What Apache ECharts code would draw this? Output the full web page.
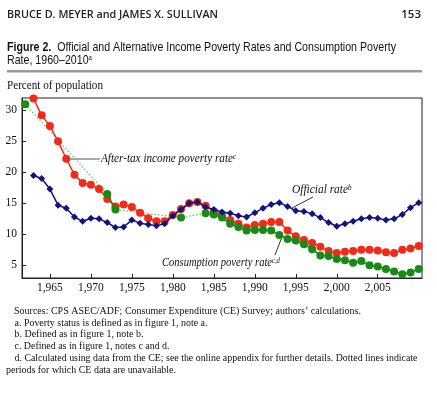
<!DOCTYPE html>
<html><head><meta charset="utf-8">
<script src="https://cdn.jsdelivr.net/npm/echarts@6/dist/echarts.min.js"></script>
<style>html,body{margin:0;padding:0;background:#fff}#c{width:437px;height:394px}</style>
</head><body><div id="c"></div>
<script>
const years = [1963,1964,1965,1966,1967,1968,1969,1970,1971,1972,1973,1974,1975,1976,1977,1978,1979,1980,1981,1982,1983,1984,1985,1986,1987,1988,1989,1990,1991,1992,1993,1994,1995,1996,1997,1998,1999,2000,2001,2002,2003,2004,2005,2006,2007,2008,2009,2010];
const officialRate = [19.5,19.0,17.3,14.7,14.2,12.8,12.1,12.6,12.5,11.9,11.1,11.2,12.3,11.8,11.6,11.4,11.7,13.0,14.0,15.0,15.2,14.4,14.0,13.6,13.4,13.0,12.8,13.5,14.2,14.8,15.1,14.5,13.8,13.7,13.3,12.7,11.9,11.3,11.7,12.1,12.5,12.7,12.6,12.3,12.5,13.2,14.3,15.1];
const afterTaxRate = [31.9,29.2,27.5,25.0,22.2,19.6,18.3,18.0,17.3,15.7,14.5,14.8,14.4,13.5,12.6,12.1,12.1,13.1,14.1,15.0,15.2,14.6,13.7,13.1,12.3,11.7,11.1,11.5,11.7,12.0,12.0,10.6,9.7,9.1,8.6,8.0,7.3,7.0,7.2,7.3,7.5,7.5,7.4,7.1,7.0,7.5,7.7,8.1];
const consYears = [1962,1972,1973,1981,1984,1985,1986,1987,1988,1989,1990,1991,1992,1993,1994,1995,1996,1997,1998,1999,2000,2001,2002,2003,2004,2005,2006,2007,2008,2009,2010];
const consRate = [31.0,16.5,14.0,12.7,13.4,13.2,12.7,11.7,11.2,10.6,10.7,10.7,10.6,9.9,9.25,9.0,8.4,7.6,6.6,6.5,6.0,5.8,5.4,5.7,5.0,4.8,4.4,4.0,3.55,3.85,4.4];
const xTickYears = [1965,1970,1975,1980,1985,1990,1995,2000,2005];
const yTickValues = [5,10,15,20,25,30];

const RED = '#f22a17', BLUE = '#13137f', GREEN = '#178a17', DOT = '#4fd04f';
const SERIF = '"Liberation Serif","Times New Roman",serif';
const SANS = '"Liberation Sans",Arial,sans-serif';

const mctx = document.createElement('canvas').getContext('2d');
const measure = (font, text) => { mctx.font = font; return mctx.measureText(text).width; };

const pairs = (xs, ys) => xs.map((x, i) => [x, ys[i]]);
const runs = [];
consYears.forEach((y, i) => {
  if (i === 0 || y - consYears[i - 1] !== 1) runs.push([]);
  runs[runs.length - 1].push([y, consRate[i]]);
});

const series = [
  { type: 'line', data: pairs(consYears, consRate), showSymbol: false, z: 1,
    lineStyle: { color: DOT, width: 1.2, type: [1.5, 2] }, silent: true },
  { type: 'line', data: pairs(years, afterTaxRate), symbol: 'circle', symbolSize: 8, z: 2,
    itemStyle: { color: RED }, lineStyle: { color: RED, width: 1.5 } }
];
runs.forEach(r => series.push({ type: 'line', data: r, symbol: 'circle', symbolSize: 8, z: 3,
  showSymbol: true, itemStyle: { color: GREEN }, lineStyle: { color: GREEN, width: 1.5 } }));
series.push({ type: 'line', data: pairs(years, officialRate), symbol: 'diamond', symbolSize: 7, z: 4,
  itemStyle: { color: BLUE }, lineStyle: { color: BLUE, width: 1.5 } });

const fitTxt = (x, y, text, font, width, extra) => ({ type: 'text', x, y, silent: true,
  scaleX: width ? width / measure(font, text) : 1,
  style: Object.assign({ text, font, fill: '#111', verticalAlign: 'middle' }, extra || {}) });
const supTxt = (x, y, main, sup, font, supFont, width) => ({ type: 'text', x, y, silent: true,
  scaleX: width / measure(font, main),
  style: { text: '{n|' + main + '}{s|' + sup + '}', verticalAlign: 'middle',
    rich: { n: { font, fill: '#111' }, s: { font: supFont, fill: '#111', verticalAlign: 'top' } } } });
const line = (x1, y1, x2, y2, color, w) => ({ type: 'line', silent: true,
  shape: { x1, y1, x2, y2 }, style: { stroke: color, lineWidth: w } });

const TB = 'bold 13px ' + SANS, TN = '13px ' + SANS;
const t1b = 'Figure 2.', t1n = '  Official and Alternative Income Poverty Rates and Consumption Poverty';
const t1scale = 389 / (measure(TB, t1b) + measure(TN, t1n));
const IT = 'italic 12px ' + SERIF, ITS = 'italic 7.5px ' + SERIF;
const NOTE = '11px ' + SERIF;

const chart = echarts.init(document.getElementById('c'), null, { renderer: 'canvas' });
chart.setOption({
  animation: false,
  backgroundColor: '#fff',
  grid: { left: 22, right: 15, top: 98, bottom: 116, show: true, borderColor: '#222', borderWidth: 1, backgroundColor: 'transparent' },
  xAxis: { type: 'value', min: 1961.6, max: 2010.4,
    axisLine: { lineStyle: { color: '#222', width: 1 } },
    axisTick: { inside: true, length: 4, lineStyle: { color: '#222' }, customValues: xTickYears },
    axisLabel: { customValues: xTickYears, color: '#111', fontFamily: SERIF, fontSize: 11.5, margin: 4 },
    splitLine: { show: false } },
  yAxis: { type: 'value', min: 2.95, max: 32.0,
    axisLine: { show: true, lineStyle: { color: '#222', width: 1 } },
    axisTick: { show: true, inside: true, length: 4, lineStyle: { color: '#222' }, customValues: yTickValues },
    axisLabel: { customValues: yTickValues, color: '#111', fontFamily: SERIF, fontSize: 11.5, margin: 5 },
    splitLine: { show: false } },
  series,
  graphic: [
    fitTxt(7, 15, 'BRUCE D. MEYER and JAMES X. SULLIVAN', '600 11px "Open Sans",sans-serif', 211, { fill: '#222' }),
    fitTxt(421, 15, '153', '600 11.5px "Open Sans",sans-serif', 0, { align: 'right', fill: '#222' }),
    { type: 'text', x: 7, y: 47, silent: true, scaleX: t1scale, style: { text: '{b|' + t1b + '}{n|' + t1n + '}',
      verticalAlign: 'middle', rich: { b: { font: TB, fill: '#111' }, n: { font: TN, fill: '#111' } } } },
    { type: 'text', x: 7, y: 60.5, silent: true, scaleX: t1scale, style: { text: '{n|Rate, 1960–2010}{s|a}',
      verticalAlign: 'middle', rich: { n: { font: TN, fill: '#111' }, s: { font: '7.5px ' + SANS, fill: '#111', verticalAlign: 'top' } } } },
    { type: 'rect', silent: true, shape: { x: 7, y: 70, width: 415, height: 2.5 }, style: { fill: '#9a9a9a' } },
    fitTxt(7, 86, 'Percent of population', '11.5px ' + SERIF, 96),
    line(68, 159, 100, 159, '#555', 1),
    supTxt(101, 159, 'After-tax income poverty rate', 'c', IT, ITS, 132),
    line(292, 208, 313, 197, '#333', 1),
    supTxt(292, 190, 'Official rate', 'b', IT, ITS, 56),
    line(275, 255, 282, 237, '#333', 1),
    supTxt(162, 263, 'Consumption poverty rate', 'c,d', IT, ITS, 110),
    fitTxt(14, 311, 'Sources: CPS ASEC/ADF; Consumer Expenditure (CE) Survey; authors’ calculations.', NOTE, 347),
    fitTxt(14.5, 323, 'a. Poverty status is defined as in figure 1, note a.', NOTE, 193),
    fitTxt(14.5, 334.5, 'b. Defined as in figure 1, note b.', NOTE, 129),
    fitTxt(14.5, 346, 'c. Defined as in figure 1, notes c and d.', NOTE, 155),
    fitTxt(14.5, 358.5, 'd. Calculated using data from the CE; see the online appendix for further details. Dotted lines indicate', NOTE, 403),
    fitTxt(6, 370, 'periods for which CE data are unavailable.', NOTE, 170)
  ]
});
</script>
</body></html>
